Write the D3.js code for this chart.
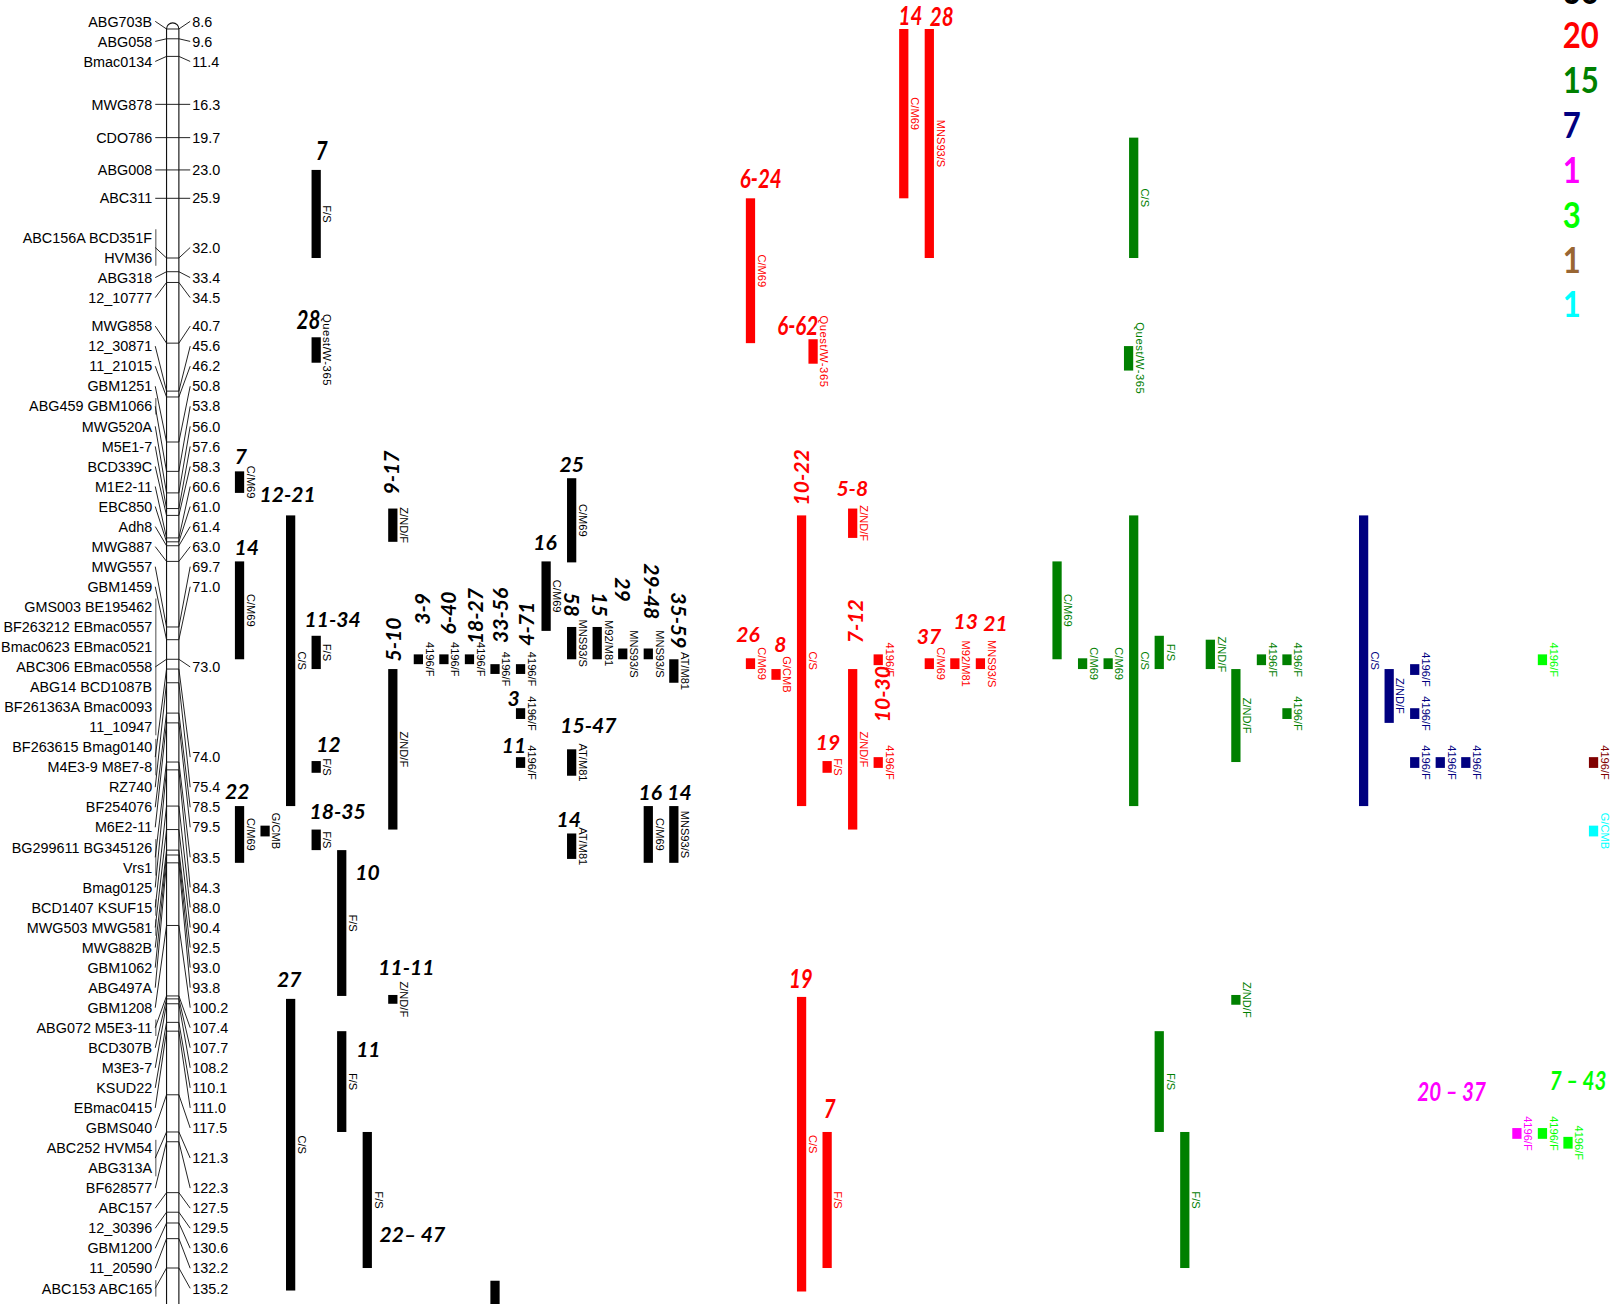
<!DOCTYPE html>
<html lang="en">
<head>
<meta charset="utf-8">
<title>Chromosome 2H linkage map with QTL</title>
<script src="https://cdn.jsdelivr.net/npm/d3@7"></script>
<style>
  body { margin: 0; background: #fff; }
  svg { display: block; }
  .mk { font-family: "Liberation Sans", Arial, sans-serif; font-size: 14px; fill: #000; }
  .qn { font-family: Lato, sans-serif; font-weight: 700; font-style: italic; }
  .mt { font-family: "Liberation Sans", Arial, sans-serif; font-size: 10.8px; }
  .lg { font-family: Lato, sans-serif; font-weight: 700; font-size: 36px; }
</style>
</head>
<body>
<script>
// ---- linkage map: loci (cM) and the marker names at each locus (one entry per text row)
const locusCM = [8.6, 9.6, 11.4, 16.3, 19.7, 23.0, 25.9, 32.0, 33.4, 34.5,
  40.7, 45.6, 46.2, 50.8, 53.8, 56.0, 57.6, 58.3, 60.6, 61.0,
  61.4, 63.0, 69.7, 71.0, 73.0, 74.0, 75.4, 78.5, 79.5, 83.5,
  84.3, 88.0, 90.4, 92.5, 93.0, 93.8, 100.2, 107.4, 107.7, 108.2,
  110.1, 111.0, 117.5, 121.3, 122.3, 127.5, 129.5, 130.6, 132.2, 135.2];

const locusNames = [
  ["ABG703B"], ["ABG058"], ["Bmac0134"], ["MWG878"], ["CDO786"], ["ABG008"], ["ABC311"],
  ["ABC156A BCD351F", "HVM36"], ["ABG318"], ["12_10777"],
  ["MWG858"], ["12_30871"], ["11_21015"], ["GBM1251"], ["ABG459 GBM1066"], ["MWG520A"],
  ["M5E1-7"], ["BCD339C"], ["M1E2-11"], ["EBC850"], ["Adh8"], ["MWG887"], ["MWG557"], ["GBM1459"],
  ["GMS003 BE195462", "BF263212 EBmac0557", "Bmac0623 EBmac0521", "ABC306 EBmac0558",
   "ABG14 BCD1087B", "BF261363A Bmac0093", "11_10947"],
  ["BF263615 Bmag0140", "M4E3-9 M8E7-8"], ["RZ740"], ["BF254076"], ["M6E2-11"],
  ["BG299611 BG345126", "Vrs1"], ["Bmag0125"], ["BCD1407 KSUF15"], ["MWG503 MWG581"],
  ["MWG882B"], ["GBM1062"], ["ABG497A"], ["GBM1208"], ["ABG072 M5E3-11"], ["BCD307B"],
  ["M3E3-7"], ["KSUD22"], ["EBmac0415"], ["GBMS040"], ["ABC252 HVM54", "ABG313A"],
  ["BF628577"], ["ABC157"], ["12_30396"], ["GBM1200"], ["11_20590"], ["ABC153 ABC165"]];

// ---- QTL: [id, column, from cM, to cM, method, label]
const blackQTL = [
  ["B1", 3, 23.0, 32.0, "F/S", "7"],
  ["B2", 3, 40.1, 42.7, "Quest/W-365", "28"],
  ["B3", 0, 53.8, 56.0, "C/M69", "7"],
  ["B4", 0, 63.0, 73.0, "C/M69", "14"],
  ["B5", 2, 58.3, 88.0, "C/S", "12-21"],
  ["B6", 3, 70.6, 74.0, "F/S", "11-34"],
  ["B7", 3, 83.4, 84.6, "F/S", "12"],
  ["B8", 0, 88.0, 93.8, "C/M69", "22"],
  ["B9", 1, 90.0, 91.1, "G/CMB", ""],
  ["B10", 3, 90.4, 92.5, "F/S", "18-35"],
  ["B11", 4, 92.5, 107.4, "F/S", "10"],
  ["B12", 2, 107.7, 137.5, "C/S", "27"],
  ["B13", 4, 111.0, 121.3, "F/S", "11"],
  ["B14", 5, 121.3, 135.2, "F/S", "22\u2013 47"],
  ["B15", 6, 57.6, 61.0, "Z/ND/F", "9-17"],
  ["B16", 6, 107.3, 108.2, "Z/ND/F", "11-11"],
  ["B17", 6, 74.0, 90.4, "Z/ND/F", "5-10"],
  ["B18", 7, 72.5, 73.5, "4196/F", "3-9"],
  ["B19", 8, 72.5, 73.5, "4196/F", "6-40"],
  ["B20", 9, 72.5, 73.5, "4196/F", "18-27"],
  ["B21", 10, 73.5, 74.5, "4196/F", "33-56"],
  ["B22", 11, 73.5, 74.5, "4196/F", "4-71"],
  ["B23", 11, 78.0, 79.1, "4196/F", "3"],
  ["B24", 11, 83.0, 84.1, "4196/F", "11"],
  ["B25", 13, 54.5, 63.1, "C/M69", "25"],
  ["B26", 12, 63.0, 70.1, "C/M69", "16"],
  ["B27", 13, 69.7, 73.0, "MNS93/S", "58"],
  ["B28", 14, 69.7, 73.0, "M92/M81", "15"],
  ["B29", 15, 71.9, 73.0, "MNS93/S", "29"],
  ["B30", 16, 71.9, 73.0, "MNS93/S", "29-48"],
  ["B31", 17, 73.0, 75.4, "AT/M81", "35-59"],
  ["B32", 13, 82.2, 84.9, "AT/M81", "15-47"],
  ["B33", 13, 90.8, 93.4, "AT/M81", "14"],
  ["B34", 16, 88.0, 93.8, "C/M69", "16"],
  ["B35", 17, 88.0, 93.8, "MNS93/S", "14"],
  ["B36", 10, 136.5, 143.0, "", ""]];

const redQTL = [
  ["R1", 26, 8.6, 25.9, "C/M69", "14"],
  ["R2", 27, 8.6, 32.0, "MNS93/S", "28"],
  ["R3", 20, 25.9, 40.7, "C/M69", "6-24"],
  ["R4", 22.45, 40.3, 42.8, "Quest/W-365", "6-62"],
  ["R5", 22, 58.3, 88.0, "C/S", "10-22"],
  ["R6", 24, 57.6, 60.6, "Z/ND/F", "5-8"],
  ["R7", 20, 72.9, 74.0, "C/M69", "26"],
  ["R8", 21, 74.0, 75.1, "G/CMB", "8"],
  ["R9", 25, 72.5, 73.6, "4196/F", "7-12"],
  ["R10", 24, 74.0, 90.4, "Z/ND/F", "10-30"],
  ["R11", 23, 83.4, 84.6, "F/S", "19"],
  ["R12", 25, 83.0, 84.1, "4196/F", ""],
  ["R13", 27, 72.9, 74.0, "C/M69", "37"],
  ["R14", 28, 72.9, 74.0, "M92/M81", "13"],
  ["R15", 29, 72.9, 74.0, "MNS93/S", "21"],
  ["R16", 22, 107.5, 137.6, "C/S", "19"],
  ["R17", 23, 121.3, 135.2, "F/S", "7"]];

const greenQTL = [
  ["G1", 35, 19.7, 32.0, "C/S", ""],
  ["G2", 34.8, 41.0, 43.5, "Quest/W-365", ""],
  ["G3", 32, 63.0, 73.0, "C/M69", ""],
  ["G4", 33, 72.9, 74.0, "C/M69", ""],
  ["G5", 34, 72.9, 74.0, "C/M69", ""],
  ["G6", 35, 58.3, 88.0, "C/S", ""],
  ["G7", 36, 70.6, 74.0, "F/S", ""],
  ["G8", 38, 71.0, 74.0, "Z/ND/F", ""],
  ["G9", 39, 74.0, 83.5, "Z/ND/F", ""],
  ["G10", 40, 72.5, 73.6, "4196/F", ""],
  ["G11", 41, 72.5, 73.6, "4196/F", ""],
  ["G12", 41, 78.0, 79.1, "4196/F", ""],
  ["G13", 39, 107.3, 108.3, "Z/ND/F", ""],
  ["G14", 36, 111.0, 121.3, "F/S", ""],
  ["G15", 37, 121.3, 135.2, "F/S", ""]];

const navyQTL = [
  ["N1", 44, 58.3, 88.0, "C/S", ""],
  ["N2", 45, 74.0, 79.5, "Z/ND/F", ""],
  ["N3", 46, 73.5, 74.6, "4196/F", ""],
  ["N4", 46, 78.0, 79.1, "4196/F", ""],
  ["N5", 46, 83.0, 84.1, "4196/F", ""],
  ["N6", 47, 83.0, 84.1, "4196/F", ""],
  ["N7", 48, 83.0, 84.1, "4196/F", ""]];

const magentaQTL = [["M1", 50, 120.9, 122.0, "4196/F", "20 \u2013 37"]];
const limeQTL = [
  ["L1", 51, 72.5, 73.6, "4196/F", ""],
  ["L2", 51, 120.9, 122.0, "4196/F", ""],
  ["L3", 52, 121.8, 123.0, "4196/F", "7 \u2013 43"]];
const maroonQTL = [["W1", 53, 83.0, 84.1, "4196/F", ""]];
const cyanQTL = [["C1", 53, 90.0, 91.1, "G/CMB", ""]];

const setKeys = ["black", "red", "green", "navy", "magenta", "lime", "maroon", "cyan"];
const setColors = ["#000000", "#ff0000", "#008000", "#000080", "#ff00ff", "#00ff00", "#800000", "#00ffff"];

// counts shown at the top right
const legendCounts = ["36", "20", "15", "7", "1", "3", "1", "1"];
const legendColors = ["#000000", "#ff0000", "#008000", "#000080", "#ff00ff", "#00ff00", "#996633", "#00ffff"];

// ---- annotation layout (label offset from bar top-centre, rotation)
const labelPlace = {
  B1: [5.5, -19, 0], B2: [-7.5, -17, 0], B3: [1.3, -15, 0], B4: [7, -13.2, 0], B5: [-3, -20.4, 0],
  B6: [16, -16, 0], B7: [11.9, -16, 0], B8: [-2.3, -14, 0], B10: [20.9, -18, 0], B11: [25.1, 21.6, 0],
  B12: [-1.4, -18.8, 0], B13: [25.9, 17.7, 0], B14: [43.8, 99.6, 0], B15: [-1.1, -35, -90],
  B16: [13.2, -26.4, 0], B17: [0.5, -28.7, -90], B18: [4, -44.3, -90], B19: [4.2, -40.3, -90],
  B20: [5.3, -37.3, -90], B21: [4.9, -47.4, -90], B22: [6, -39.3, -90], B23: [-6.7, -9.2, 0],
  B24: [-6.4, -11.3, 0], B25: [0, -13.5, 0], B26: [-1, -18.2, 0], B27: [0.4, -21.9, 90],
  B28: [1.9, -21.9, 90], B29: [-0.3, -57.4, 90], B30: [3.4, -55.7, 90], B31: [4.8, -37.8, 90],
  B32: [16.3, -23.7, 0], B33: [-2.9, -13.7, 0], B34: [1.9, -13, 0], B35: [5.5, -13, 0],
  R1: [6.5, -13, 0], R2: [12, -11.5, 0], R3: [10, -18.7, 0], R4: [-14.9, -12.8, 0], R5: [0.3, -37, -90],
  R6: [-0.4, -19.5, 0], R7: [-2.4, -23.2, 0], R8: [4.2, -23.6, 0], R9: [-22.3, -32.3, -90],
  R10: [29.1, 24.4, -90], R11: [0.9, -18.6, 0], R13: [-0.3, -21.7, 0], R14: [10.6, -35.8, 0],
  R15: [14.6, -34.2, 0], R16: [-0.7, -17.5, 0], R17: [2.5, -23, 0],
  M1: [-63.5, -35, 0], L3: [9.8, -54.7, 0]
};
const condensed = ["B1", "B2", "R1", "R2", "R3", "R4", "R16", "R17", "M1", "L3"];

const W = 1568, H = 1268;
const svg = d3.select("body").append("svg")
  .attr("width", 1612).attr("height", 1304)
  .attr("viewBox", [0, 0, W, H]);
svg.append("rect").attr("width", W).attr("height", H).attr("fill", "#fff");

const yScale = d3.scaleLinear().domain([8.6, 135.2]).range([28, 1233.2]);
const xScale = d3.scaleLinear().domain([0, 53]).range([233, 1550.05]);
const color = d3.scaleOrdinal().domain(setKeys).range(setColors);

// ---- label spreading (pool adjacent violators); the crowded lower run is packed down to the cut edge
const sp = 19.5, labelBottom = 1253;
function pav(t) {
  const blocks = [];
  t.forEach(v => {
    blocks.push({ s: v, n: 1 });
    while (blocks.length > 1) {
      const b = blocks[blocks.length - 1], a = blocks[blocks.length - 2];
      if (a.s / a.n > b.s / b.n) { a.s += b.s; a.n += b.n; blocks.pop(); } else break;
    }
  });
  const out = [];
  blocks.forEach(b => { for (let k = 0; k < b.n; k++) out.push(b.s / b.n); });
  return out;
}
function spread(t) {
  return pav(t.map((v, i) => v - i * sp)).map((v, i) => v + i * sp);
}
function layoutLabels(t) {
  const n = t.length;
  const yy = spread(t);
  if (yy[n - 1] >= labelBottom) return yy;
  const anch = i => labelBottom - (n - 1 - i) * sp;
  let best = null, bestErr = Infinity;
  for (let j = -1; j < n - 1; j++) {
    if (anch(j + 1) >= t[j + 1]) continue;
    const pre = j >= 0 ? spread(t.slice(0, j + 1)) : [];
    if (j >= 0 && pre[j] + sp > anch(j + 1) + 1e-6) continue;
    const cand = pre.concat(d3.range(j + 1, n).map(anch));
    const err = d3.sum(cand, (v, i) => (v - t[i]) ** 2);
    if (err < bestErr) { bestErr = err; best = cand; }
  }
  return best || yy;
}

const lines = [];
locusCM.forEach((c, i) => {
  const k = locusNames[i].length;
  locusNames[i].forEach((txt, j) => lines.push({ locus: i, text: txt, target: yScale(c) + (j - (k - 1) / 2) * sp }));
});
const lineY = layoutLabels(lines.map(d => d.target));
lines.forEach((d, i) => d.y = lineY[i]);
const loci = locusCM.map((c, i) => {
  const ls = lines.filter(d => d.locus === i);
  return { cM: c, ty: yScale(c), gy: d3.mean(ls, d => d.y), y0: ls[0].y, y1: ls[ls.length - 1].y,
           multi: ls.length > 1 || ls[0].text.includes(" ") };
});

// ---- chromosome
const chrL = 162, chrR = 174, chrTop = yScale(8.6);
const map = svg.append("g");
map.append("path")
  .attr("d", `M${chrL},${H + 20}V${chrTop}A6,6 0 0 1 ${chrR},${chrTop}V${H + 20}`)
  .attr("fill", "#fff").attr("stroke", "#111").attr("stroke-width", 1.1);

map.selectAll(".bracket").data(loci.filter(d => d.multi)).join("line")
  .attr("x1", 151.5).attr("x2", 151.5)
  .attr("y1", d => d.y0 - 8).attr("y2", d => d.y1 + 8)
  .attr("stroke", "#8a8a8a").attr("stroke-width", 1.5);

map.selectAll(".conn").data(loci).join("path")
  .attr("d", d => `M151,${d.gy}L${chrL},${d.ty}H${chrR}L185,${d.gy}`)
  .attr("fill", "none").attr("stroke", "#111").attr("stroke-width", 0.9);

map.selectAll(".name").data(lines).join("text")
  .attr("class", "mk").attr("x", 148).attr("y", d => d.y).attr("dy", "0.36em")
  .attr("text-anchor", "end").text(d => d.text);

map.selectAll(".pos").data(loci).join("text")
  .attr("class", "mk").attr("x", 187).attr("y", d => d.gy).attr("dy", "0.36em")
  .text(d => d.cM.toFixed(1));

// ---- QTL bars
const sets = [blackQTL, redQTL, greenQTL, navyQTL, magentaQTL, limeQTL, maroonQTL, cyanQTL];
const qtl = sets.flatMap((rows, s) => rows.map(([id, track, from, to, method, label]) =>
  ({ set: setKeys[s], id, track, from, to, method, label })));

const bw = 9;
const g = svg.append("g");
g.selectAll("rect").data(qtl).join("rect")
  .attr("x", d => xScale(d.track) - bw / 2).attr("y", d => yScale(d.from))
  .attr("width", bw).attr("height", d => yScale(d.to) - yScale(d.from))
  .attr("fill", d => color(d.set));

g.selectAll(".mt").data(qtl.filter(d => d.method)).join("text")
  .attr("class", "mt")
  .attr("transform", d => `translate(${xScale(d.track) + bw / 2 + 2.6},${(yScale(d.from) + yScale(d.to)) / 2}) rotate(90)`)
  .attr("text-anchor", "middle")
  .attr("fill", d => color(d.set))
  .style("font-size", d => d.method.startsWith("Quest") ? "11px" : null)
  .style("letter-spacing", d => d.method.startsWith("Quest") ? "0.5px" : null)
  .text(d => d.method);

g.selectAll(".qn").data(qtl.filter(d => d.label)).join("text")
  .attr("class", "qn")
  .attr("transform", d => {
    const p = labelPlace[d.id];
    const s = condensed.includes(d.id) ? " scale(0.8,1)" : "";
    return `translate(${xScale(d.track) + p[0]},${yScale(d.from) + p[1]}) rotate(${p[2]})${s}`;
  })
  .attr("text-anchor", "middle").attr("dy", "0.36em")
  .style("font-size", d => condensed.includes(d.id) ? "25px" : "20.5px")
  .attr("fill", d => color(d.set))
  .text(d => d.label);

// ---- counts
svg.append("g").selectAll("text").data(legendCounts).join("text")
  .attr("class", "lg")
  .attr("transform", (d, i) => `translate(1520,${-9.6 + i * 43.6}) scale(0.84,1)`)
  .attr("dy", "0.36em")
  .attr("fill", (d, i) => legendColors[i])
  .text(d => d);
</script>
</body>
</html>
